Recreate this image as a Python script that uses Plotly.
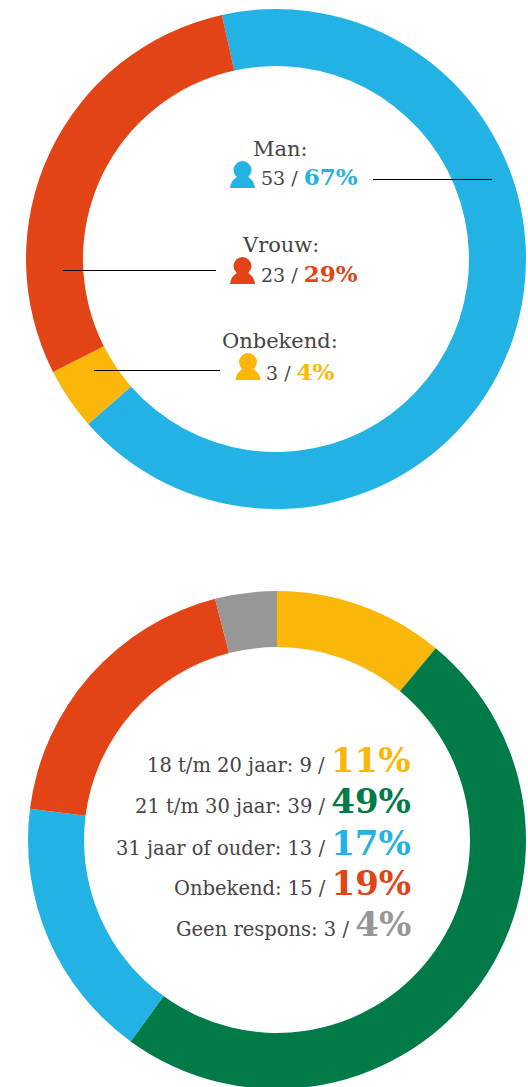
import plotly.graph_objects as go

# ---- data ----
gender_labels = ["Man", "Onbekend", "Vrouw"]
gender_counts = [53, 3, 23]
gender_pct = [67, 4, 29]
gender_colors = ["#22B2E4", "#FAB70A", "#E34415"]

age_labels = ["18 t/m 20 jaar", "21 t/m 30 jaar", "31 jaar of ouder", "Onbekend", "Geen respons"]
age_counts = [9, 39, 13, 15, 3]
age_pct = [11, 49, 17, 19, 4]
age_colors = ["#FAB70A", "#007A46", "#22B2E4", "#E34415", "#979797"]

W, H = 528, 1100
TEXT = "#444444"
FONT = "DejaVu Serif"

def px(x): return x / W
def py(y): return 1 - y / H

fig = go.Figure()
fig.add_trace(go.Pie(values=gender_pct, labels=gender_labels, sort=False, direction="clockwise",
                     rotation=-12.5, hole=0.772, textinfo="none", hoverinfo="skip", showlegend=False,
                     marker=dict(colors=gender_colors, line=dict(width=0)),
                     domain=dict(x=[px(26), px(526)], y=[py(509), py(9)])))
fig.add_trace(go.Pie(values=age_pct, labels=age_labels, sort=False, direction="clockwise",
                     rotation=0, hole=0.775, textinfo="none", hoverinfo="skip", showlegend=False,
                     marker=dict(colors=age_colors, line=dict(width=0)),
                     domain=dict(x=[px(28), px(526)], y=[py(1089), py(591)])))

ann = []
def text(x, y, s, anchor="left", size=19):
    ann.append(dict(x=px(x), y=py(y), xref="paper", yref="paper", text=s, showarrow=False,
                    xanchor=anchor, yanchor="middle", align=anchor, borderpad=0,
                    font=dict(family=FONT, size=size, color=TEXT)))

def pct(p, color, size):
    return f'<span style="color:{color};font-size:{size}px"><b>{p}%</b></span>'

# gender block
g_order = [0, 2, 1]
title_y = [149, 245, 341]
line_y = [177, 274, 371]
left_x = [260, 260, 265]
icon_x = [242.5, 242.5, 248]
icon_top = [161, 257, 353]
for k, i in enumerate(g_order):
    text(280, title_y[k], gender_labels[i] + ":", "center", size=21)
    text(left_x[k], line_y[k], f"{gender_counts[i]} / " + pct(gender_pct[i], gender_colors[i], 23))

# age block
age_y = [760, 801, 843, 883, 924]
for i in range(5):
    text(412, age_y[i], f"{age_labels[i]}: {age_counts[i]} / " + pct(age_pct[i], age_colors[i], 34), "right", size=19.5)

shapes = []
for k, i in enumerate(g_order):
    c, cx, t = gender_colors[i], icon_x[k], icon_top[k]
    shapes.append(dict(type="circle", xref="paper", yref="paper", layer="above", line_width=0, fillcolor=c,
                       x0=px(cx - 9), x1=px(cx + 9), y0=py(t + 18), y1=py(t)))
    p = (f"M {px(cx-12.5)} {py(t+27)} Q {px(cx-12)} {py(t+19)} {px(cx-4)} {py(t+15)} "
         f"L {px(cx+4)} {py(t+15)} Q {px(cx+12)} {py(t+19)} {px(cx+12.5)} {py(t+27)} Z")
    shapes.append(dict(type="path", path=p, xref="paper", yref="paper", layer="above", line_width=0, fillcolor=c))

for x0, x1, y in [(373, 492, 179.5), (63, 216, 270.5), (94, 220, 370.5)]:
    shapes.append(dict(type="line", xref="paper", yref="paper", layer="above",
                       x0=px(x0), x1=px(x1), y0=py(y), y1=py(y), line=dict(color="#000000", width=1)))

fig.update_layout(width=W, height=H, margin=dict(l=0, r=0, t=0, b=0), paper_bgcolor="white",
                  plot_bgcolor="white", showlegend=False, annotations=ann, shapes=shapes,
                  font=dict(family=FONT))
fig.write_html("out.html", config={"displayModeBar": False}, post_script=(
    "document.body.style.margin='0';document.documentElement.style.overflow='hidden';"
    "document.body.style.overflow='hidden';"))
